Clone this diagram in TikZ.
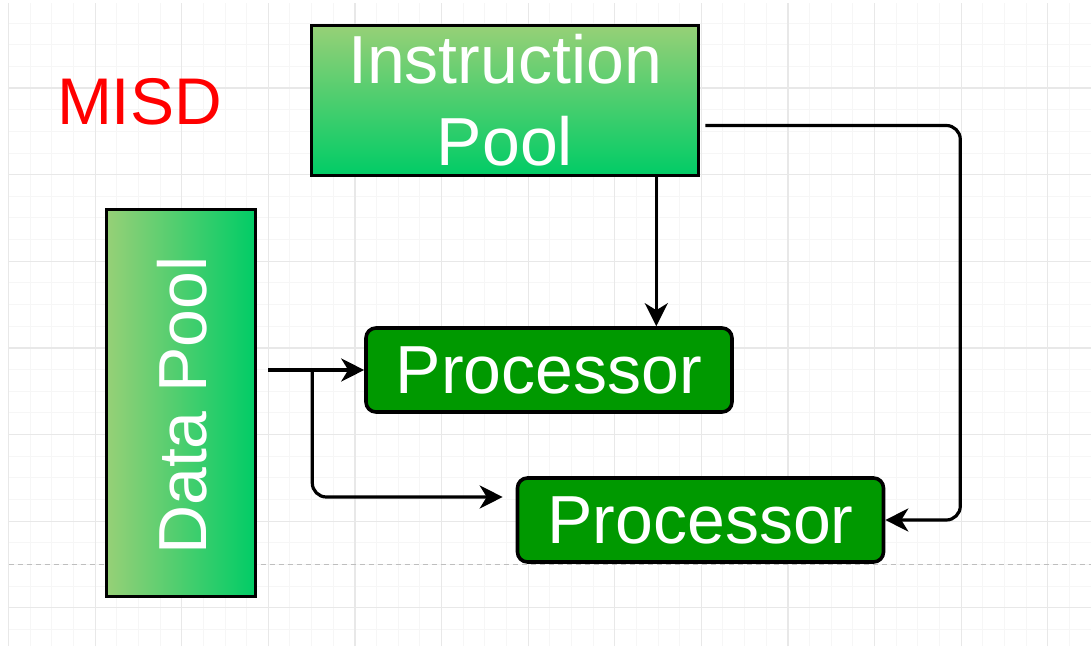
\documentclass[tikz,border=0pt]{standalone}
\usepackage{fontspec}
\setmainfont{Liberation Sans}
\usetikzlibrary{arrows.meta}
\definecolor{PoolLight}{RGB}{151,208,119}
\definecolor{PoolDark}{RGB}{0,204,102}
\definecolor{ProcGreen}{RGB}{0,153,0}
\definecolor{GridMinor}{RGB}{246,246,246}
\definecolor{GridMajor}{RGB}{232,232,232}
\definecolor{PageBreak}{RGB}{190,190,190}

\begin{document}
\begin{tikzpicture}[x=1pt,y=1pt,
  every node/.style={font=\fontsize{68}{82}\selectfont, text=white, align=center},
  pool/.style={draw, line width=3.6pt, inner sep=0pt},
  proc/.style={draw, line width=3.6pt, rounded corners=10pt, fill=ProcGreen, minimum width=366pt, minimum height=84pt, inner sep=0pt},
  arr/.style={-{Stealth[length=23pt,width=23pt,inset=7pt]}, line width=3.2pt}]
  \useasboundingbox (0,0) rectangle (1091,646);

  % grid paper
  \foreach \i in {1,...,49} \draw[GridMinor, line width=1pt] ({8.5+21.65*\i},0) -- ({8.5+21.65*\i},643);
  \foreach \j in {1,...,29} \draw[GridMinor, line width=1pt] (8.5,{644.5-21.65*\j}) -- (1091,{644.5-21.65*\j});
  \foreach \i in {0,4,...,48} \draw[GridMajor, line width=1.2pt] ({8.5+21.65*\i},0) -- ({8.5+21.65*\i},643);
  \foreach \j in {4,8,...,28} \draw[GridMajor, line width=1.2pt] (8.5,{644.5-21.65*\j}) -- (1091,{644.5-21.65*\j});
  \draw[PageBreak, line width=1pt, dash pattern=on 5pt off 4pt] (8.5,82) -- (1091,82);

  \node[text=red, font=\fontsize{66}{80}\selectfont] (misd) at (139.5,544.5) {MISD};

  \node[pool, top color=PoolLight, bottom color=PoolDark, minimum width=387pt, minimum height=150pt] (ipool) at (505,545.5) {Instruction\\Pool};
  \node[pool, left color=PoolLight, right color=PoolDark, minimum width=149pt, minimum height=387pt] (dpool) at (181,243) {};
  \node[rotate=90] (dlabel) at (182.5,240.5) {Data Pool};

  \node[proc] (proc1) at (549,276) {Processor};
  \node[proc] (proc2) at (700.5,126) {Processor};

  \draw[arr] ([xshift=-44pt]ipool.south east) -- ([xshift=-44pt]ipool.south east |- proc1.north);
  \draw[arr, rounded corners=14pt] ([xshift=5pt,yshift=-25pt]ipool.east) -- ++(255,0) |- (proc2.east);

  \draw[arr] ([xshift=11pt]dpool.east |- proc1.west) -- (proc1.west);
  \draw[arr, rounded corners=14pt] ([xshift=55pt]dpool.east |- proc1.west) |- ([xshift=-13pt,yshift=23pt]proc2.west);
\end{tikzpicture}
\end{document}
